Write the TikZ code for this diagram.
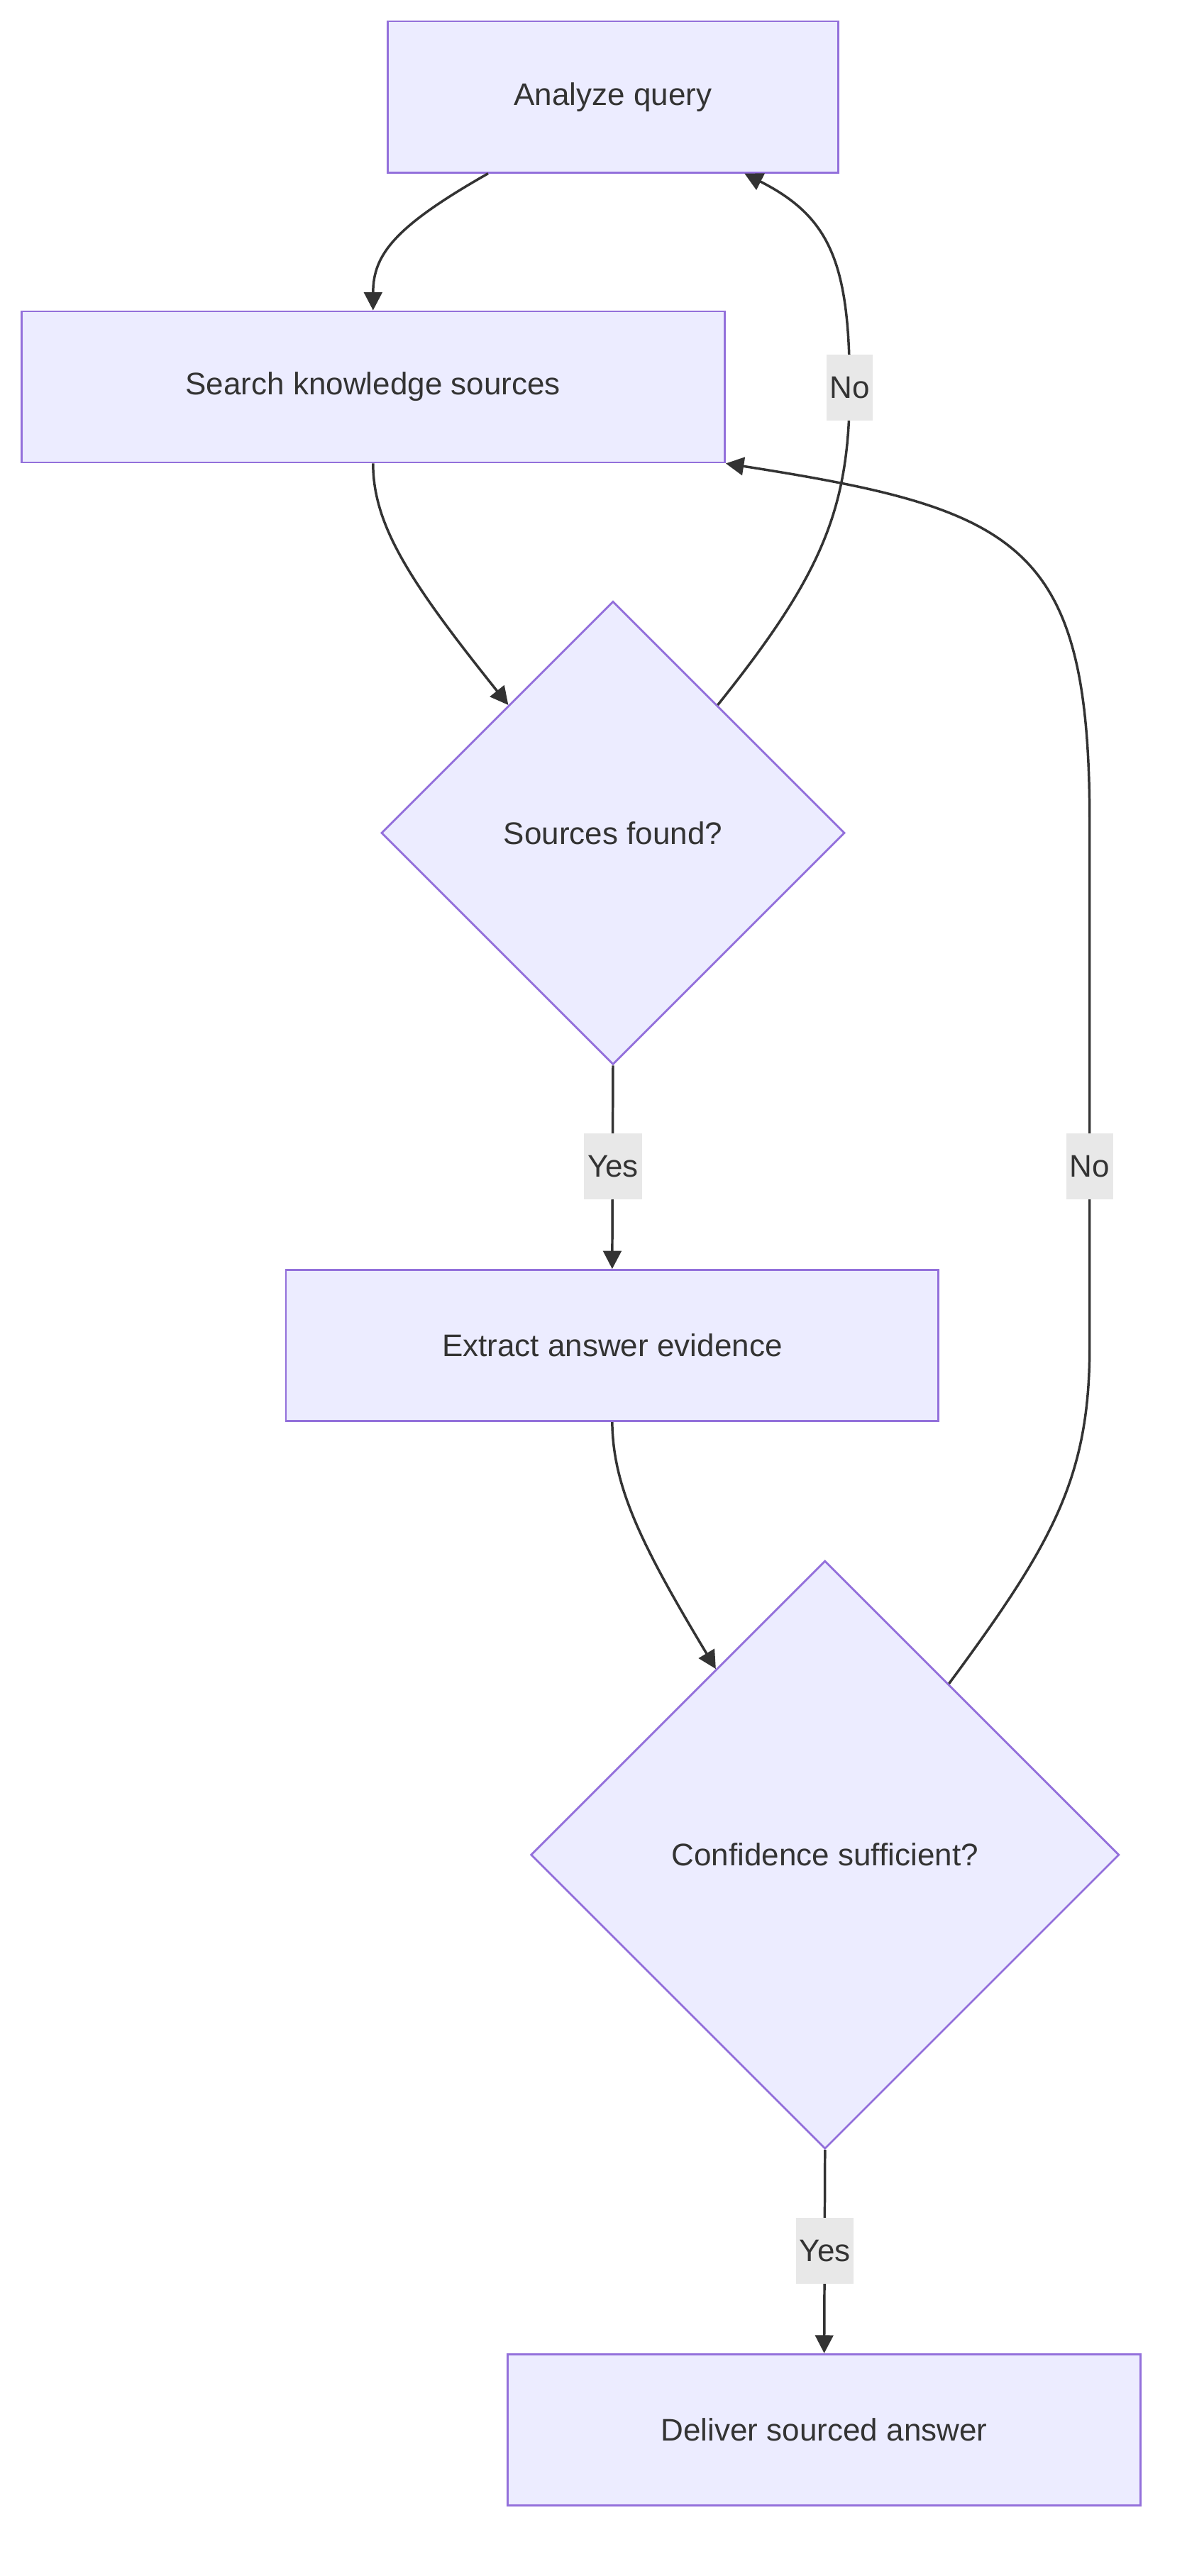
\documentclass[tikz,border=0pt]{standalone}
\usepackage{fontspec}
\setmainfont{Liberation Sans}
\usetikzlibrary{shapes.geometric,arrows.meta,calc}
\definecolor{nfill}{HTML}{ECECFF}
\definecolor{nstroke}{HTML}{9370DB}
\definecolor{ln}{HTML}{333333}
\definecolor{lbg}{HTML}{E8E8E8}
\begin{document}
\begin{tikzpicture}[x=1pt,y=-1pt,
  box/.style={draw=nstroke,fill=nfill,line width=1.2pt,text=ln,font=\fontsize{19}{23}\selectfont,inner sep=0,minimum height=92},
  dia/.style={draw=nstroke,fill=nfill,line width=1.2pt,text=ln,font=\fontsize{19}{23}\selectfont,diamond,shape aspect=1,inner sep=0},
  edge/.style={draw=ln,line width=1.5pt,-{Triangle[length=11,width=11]}},
  lab/.style={fill=lbg,text=ln,font=\fontsize{19}{23}\selectfont,inner sep=2pt,minimum height=40}]
\useasboundingbox (0,0) rectangle (722,1568);
\node[box,minimum width=274] (aq) at (373,59) {Analyze query};
\node[box,minimum width=428] (sk) at (227,235.5) {Search knowledge sources};
\node[dia,minimum width=282,minimum height=282] (sf) at (373,507) {Sources found?};
\node[box,minimum width=397] (ex) at (372.5,819) {Extract answer evidence};
\node[dia,minimum width=358,minimum height=358] (cs) at (502,1129) {Confidence sufficient?};
\node[box,minimum width=385] (dl) at (501.5,1479) {Deliver sourced answer};
\coordinate (c1) at ($(sf.north)!0.45!(sf.east)$);
\coordinate (c2) at ($(sf.north)!0.45!(sf.west)$);
\coordinate (c3) at ($(cs.north)!0.37!(cs.west)$);
\coordinate (c4) at ($(cs.north)!0.42!(cs.east)$);
\draw[edge] ([xshift=-76]aq.south) .. controls (240,138) and (227,155) .. ([xshift=0]sk.south |- sk.north);
\draw[edge] (sk.south) .. controls (227,320) and (250,355) .. (c2);
\draw[edge] (c1) .. controls (500,350) and (517,310) .. (517,236) .. controls (517,160) and (505,132) .. ([xshift=80]aq.south);
\node[lab] (n1) at (517,236) {No};
\draw[edge] (sf.south) -- (ex.north);
\node[lab] (y1) at (373,710) {Yes};
\draw[edge] (ex.south) .. controls (373,905) and (390,940) .. (c3);
\draw[edge] (c4) .. controls (640,940) and (663,900) .. (663,820) -- (663,500) .. controls (663,330) and (620,310) .. (sk.south east);
\node[lab] (n2) at (663,710) {No};
\draw[edge] (cs.south) -- (dl.north);
\node[lab] (y2) at (502,1370) {Yes};
\end{tikzpicture}
\end{document}
